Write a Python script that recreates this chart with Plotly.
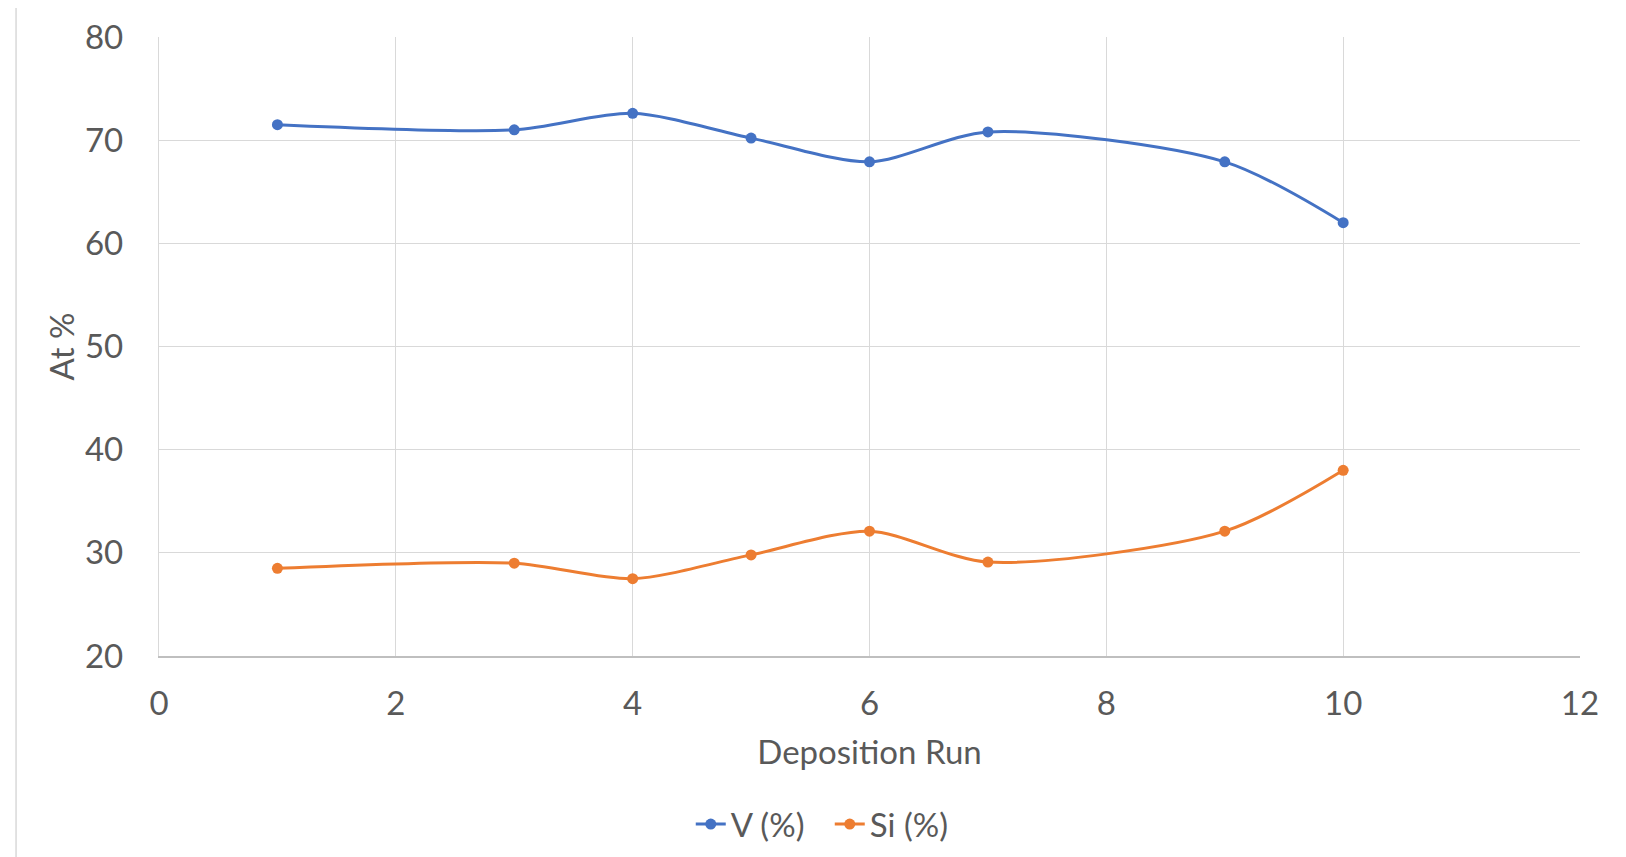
import plotly.graph_objects as go

runs = [1, 3, 4, 5, 6, 7, 9, 10]
v_pct = [71.5, 71.0, 72.6, 70.2, 67.9, 70.8, 67.9, 62.0]
si_pct = [28.5, 29.0, 27.5, 29.8, 32.1, 29.1, 32.1, 38.0]

x_ticks = [0, 2, 4, 6, 8, 10, 12]
y_ticks = [20, 30, 40, 50, 60, 70, 80]

FONT = "Lato"
TXT = "#595959"
FS = 33

fig = go.Figure()
fig.add_trace(go.Scatter(
    x=runs, y=v_pct, name="V (%)", mode="lines+markers",
    line=dict(color="#4472C4", width=3, shape="spline", smoothing=0.8),
    marker=dict(size=11, color="#4472C4"),
))
fig.add_trace(go.Scatter(
    x=runs, y=si_pct, name="Si (%)", mode="lines+markers",
    line=dict(color="#ED7D31", width=3, shape="spline", smoothing=0.8),
    marker=dict(size=11, color="#ED7D31"),
))

# page offset of the body margin
OX, OY = 8, 8
PL, PR, PT, PB = 159, 1580.5, 37.3, 656   # plot area in page pixels
W, H = 1626 - OX, 857 - OY
L, T = PL - OX, PT - OY
pw, ph = PR - PL, PB - PT
R = W - L - pw
B = H - T - ph

def px(xp):
    return (xp - PL) / pw

def py(yp):
    return (PB - yp) / ph

fig.add_shape(type="rect", xref="paper", yref="paper",
              x0=px(16), x1=px(1621), y0=py(880), y1=py(5),
              line=dict(color="#D9D9D9", width=1.5), layer="below")

fig.update_layout(
    width=W, height=H,
    margin=dict(l=L, r=R, t=T, b=B, pad=0, autoexpand=False),
    paper_bgcolor="white", plot_bgcolor="white",
    font=dict(family=FONT, color=TXT, size=FS),
    showlegend=True,
    legend=dict(orientation="h", x=px(830), xanchor="center",
                y=py(824), yanchor="middle",
                entrywidth=94, entrywidthmode="pixels",
                font=dict(size=FS, color=TXT), itemwidth=30),
    xaxis=dict(range=[0, 12], tickvals=x_ticks, showgrid=True,
               gridcolor="#D9D9D9", gridwidth=1.3, zeroline=False,
               showline=True, linecolor="#BFBFBF", linewidth=1.5,
               ticks="", ticklabelstandoff=18, automargin=False,
               tickfont=dict(size=FS, color=TXT),
               title=dict(text="Deposition Run", standoff=20,
                          font=dict(size=FS, color=TXT))),
    yaxis=dict(range=[20, 80], tickvals=y_ticks, showgrid=True,
               gridcolor="#D9D9D9", gridwidth=1.3, zeroline=False,
               showline=True, linecolor="#D9D9D9", linewidth=1.3,
               ticks="", ticklabelstandoff=28, automargin=False,
               tickfont=dict(size=FS, color=TXT),
               title=dict(text="At %", standoff=0,
                          font=dict(size=FS, color=TXT))),
)

fig.write_html("out.html")
